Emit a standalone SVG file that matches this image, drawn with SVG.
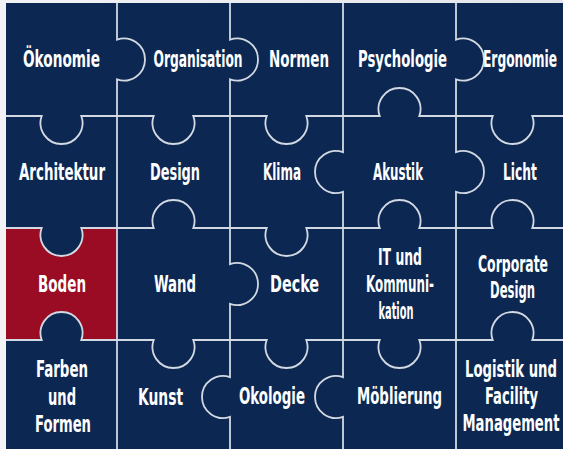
<svg xmlns="http://www.w3.org/2000/svg" width="563" height="449" viewBox="0 0 563 449">
  <defs>
    <linearGradient id="bgGrad" x1="0" y1="0" x2="1" y2="0">
      <stop offset="0" stop-color="#f2f3f5"/>
      <stop offset="1" stop-color="#e3e6eb"/>
    </linearGradient>
  </defs>
  <style>
    .lbl { font-family: "Liberation Sans Narrow", "DejaVu Sans Condensed", "Liberation Sans", sans-serif; font-stretch: condensed; font-weight: bold; font-size: 22.5px; fill: #ffffff; text-anchor: middle; }
    .edge { fill: none; stroke: #d3d9e2; stroke-width: 1.8; }
  </style>
  <rect x="0" y="0" width="563" height="449" fill="url(#bgGrad)"/>
  <rect x="6" y="3" width="557" height="446" fill="#0c2852"/>

  <g id="boden-fill">
    <rect x="6" y="228" width="111" height="112" fill="#9a0c24"/>
    <circle cx="61.5" cy="235" r="21" fill="#0c2852"/>
    <circle cx="61.5" cy="333" r="21" fill="#0c2852"/>
  </g>

  <g id="connectors">
    <path class="edge" d="M117,3 V39.7 A21,21 0 1 1 117,79.3 V449"/>
    <path class="edge" d="M230,3 V39.7 A21,21 0 1 1 230,79.3 V264.2 A21,21 0 1 1 230,303.8 V377.2 A21,21 0 1 0 230,416.8 V449"/>
    <path class="edge" d="M343,3 V152.2 A21,21 0 1 0 343,191.8 V377.2 A21,21 0 1 0 343,416.8 V449"/>
    <path class="edge" d="M456,3 V39.7 A21,21 0 1 1 456,79.3 V152.2 A21,21 0 1 1 456,191.8 V449"/>
    <path class="edge" d="M6,116 H41.7 A21,21 0 1 0 81.3,116 H153.7 A21,21 0 1 0 193.3,116 H266.7 A21,21 0 1 0 306.3,116 H379.7 A21,21 0 1 1 419.3,116 H492.7 A21,21 0 1 0 532.3,116 H563"/>
    <path class="edge" d="M6,228 H41.7 A21,21 0 1 0 81.3,228 H153.7 A21,21 0 1 1 193.3,228 H266.7 A21,21 0 1 0 306.3,228 H379.7 A21,21 0 1 1 419.3,228 H492.7 A21,21 0 1 1 532.3,228 H563"/>
    <path class="edge" d="M6,340 H41.7 A21,21 0 1 1 81.3,340 H153.7 A21,21 0 1 0 193.3,340 H266.7 A21,21 0 1 0 306.3,340 H379.7 A21,21 0 1 0 419.3,340 H492.7 A21,21 0 1 1 532.3,340 H563"/>
  </g>

  <g id="oekonomie"><text class="lbl" x="61.5" y="67" textLength="77" lengthAdjust="spacingAndGlyphs">Ökonomie</text></g>
  <g id="organisation"><text class="lbl" x="198" y="67" textLength="89" lengthAdjust="spacingAndGlyphs">Organisation</text></g>
  <g id="normen"><text class="lbl" x="299" y="67" textLength="60" lengthAdjust="spacingAndGlyphs">Normen</text></g>
  <g id="psychologie"><text class="lbl" x="402.5" y="67" textLength="89" lengthAdjust="spacingAndGlyphs">Psychologie</text></g>
  <g id="ergonomie"><text class="lbl" x="520" y="67" textLength="74" lengthAdjust="spacingAndGlyphs">Ergonomie</text></g>

  <g id="architektur"><text class="lbl" x="62" y="180" textLength="86" lengthAdjust="spacingAndGlyphs">Architektur</text></g>
  <g id="design"><text class="lbl" x="175" y="180" textLength="50" lengthAdjust="spacingAndGlyphs">Design</text></g>
  <g id="klima"><text class="lbl" x="282" y="180" textLength="38" lengthAdjust="spacingAndGlyphs">Klima</text></g>
  <g id="akustik"><text class="lbl" x="398" y="180" textLength="50" lengthAdjust="spacingAndGlyphs">Akustik</text></g>
  <g id="licht"><text class="lbl" x="520" y="180" textLength="34" lengthAdjust="spacingAndGlyphs">Licht</text></g>

  <g id="boden"><text class="lbl" x="62" y="292" textLength="48" lengthAdjust="spacingAndGlyphs">Boden</text></g>
  <g id="wand"><text class="lbl" x="175" y="292" textLength="42" lengthAdjust="spacingAndGlyphs">Wand</text></g>
  <g id="decke"><text class="lbl" x="294.5" y="292" textLength="49" lengthAdjust="spacingAndGlyphs">Decke</text></g>
  <g id="it-kommunikation">
    <text class="lbl" x="400" y="265" textLength="44" lengthAdjust="spacingAndGlyphs">IT und</text>
    <text class="lbl" x="400" y="292" textLength="68" lengthAdjust="spacingAndGlyphs">Kommuni-</text>
    <text class="lbl" x="396" y="319" textLength="35" lengthAdjust="spacingAndGlyphs">kation</text>
  </g>
  <g id="corporate-design">
    <text class="lbl" x="513" y="272" textLength="70" lengthAdjust="spacingAndGlyphs">Corporate</text>
    <text class="lbl" x="512.5" y="298" textLength="45" lengthAdjust="spacingAndGlyphs">Design</text>
  </g>

  <g id="farben-formen">
    <text class="lbl" x="62" y="377" textLength="52" lengthAdjust="spacingAndGlyphs">Farben</text>
    <text class="lbl" x="62" y="405" textLength="28" lengthAdjust="spacingAndGlyphs">und</text>
    <text class="lbl" x="63" y="432" textLength="56" lengthAdjust="spacingAndGlyphs">Formen</text>
  </g>
  <g id="kunst"><text class="lbl" x="160.5" y="405" textLength="45" lengthAdjust="spacingAndGlyphs">Kunst</text></g>
  <g id="okologie"><text class="lbl" x="272" y="404" textLength="66" lengthAdjust="spacingAndGlyphs">Okologie</text></g>
  <g id="moeblierung"><text class="lbl" x="399.5" y="404" textLength="85" lengthAdjust="spacingAndGlyphs">Möblierung</text></g>
  <g id="logistik">
    <text class="lbl" x="511" y="377" textLength="92" lengthAdjust="spacingAndGlyphs">Logistik und</text>
    <text class="lbl" x="511.5" y="404" textLength="53" lengthAdjust="spacingAndGlyphs">Facility</text>
    <text class="lbl" x="511" y="431" textLength="97" lengthAdjust="spacingAndGlyphs">Management</text>
  </g>
</svg>
